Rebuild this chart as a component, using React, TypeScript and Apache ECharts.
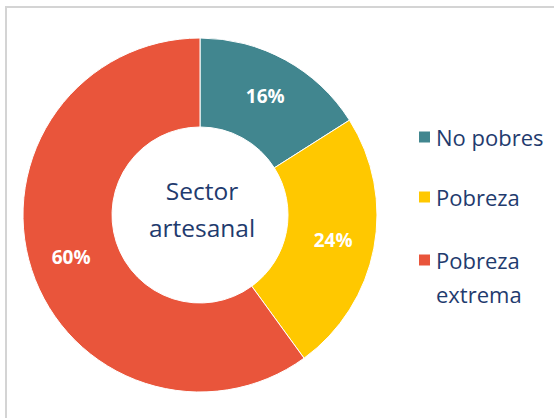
import React, { useEffect, useRef } from "react";
import * as echarts from "echarts";

const categories = ["No pobres", "Pobreza", "Pobreza extrema"];
const values = [16, 24, 60];
const colors = ["#41868F", "#FFC800", "#E9553B"];
const centerLabel = "Sector\nartesanal";

const FONT = "'Open Sans', 'Noto Sans', sans-serif";
const NAVY = "#1F3B6E";

export default function App() {
  const ref = useRef<HTMLDivElement>(null);
  useEffect(() => {
    if (!ref.current) return;
    const chart = echarts.init(ref.current, undefined, { renderer: "svg" });
    const legendText = {
      fontFamily: FONT,
      fontSize: 22,
      color: NAVY,
      lineHeight: 34,
    };
    chart.setOption({
      animation: false,
      backgroundColor: "#ffffff",
      color: colors,
      legend: [
        {
          data: categories.slice(0, 2),
          orient: "vertical",
          left: 412,
          top: 115,
          itemWidth: 13,
          itemHeight: 13,
          itemGap: 26,
          icon: "rect",
          textStyle: legendText,
        },
        {
          data: categories.slice(2),
          orient: "vertical",
          left: 412,
          top: 204,
          itemWidth: 13,
          itemHeight: 13,
          icon: "rect",
          formatter: () => " \nPobreza\nextrema",
          textStyle: legendText,
        },
      ],
      graphic: [
        {
          type: "rect",
          shape: { x: 6, y: 7, width: 700, height: 600 },
          style: { fill: "none", stroke: "#D4D4D4", lineWidth: 2 },
          silent: true,
        },
        {
          type: "text",
          x: 202,
          y: 209,
          style: {
            text: centerLabel,
            align: "center",
            verticalAlign: "middle",
            fontFamily: FONT,
            fontSize: 24.5,
            lineHeight: 37,
            fill: NAVY,
          },
          z: 10,
        },
      ],
      series: [
        {
          type: "pie",
          center: [200, 215],
          radius: [88, 177],
          startAngle: 90,
          clockwise: true,
          avoidLabelOverlap: false,
          itemStyle: { borderColor: "#ffffff", borderWidth: 1 },
          label: {
            show: true,
            position: "inside",
            formatter: "{c}%",
            color: "#ffffff",
            fontFamily: FONT,
            fontWeight: "bold",
            fontSize: 19,
          },
          labelLine: { show: false },
          emphasis: { disabled: true },
          data: categories.map((name, i) => ({ name, value: values[i] })),
        },
      ],
    });
    return () => chart.dispose();
  }, []);
  return (
    <div
      ref={ref}
      style={{ position: "fixed", left: 0, top: 0, width: 554, height: 418 }}
    />
  );
}
